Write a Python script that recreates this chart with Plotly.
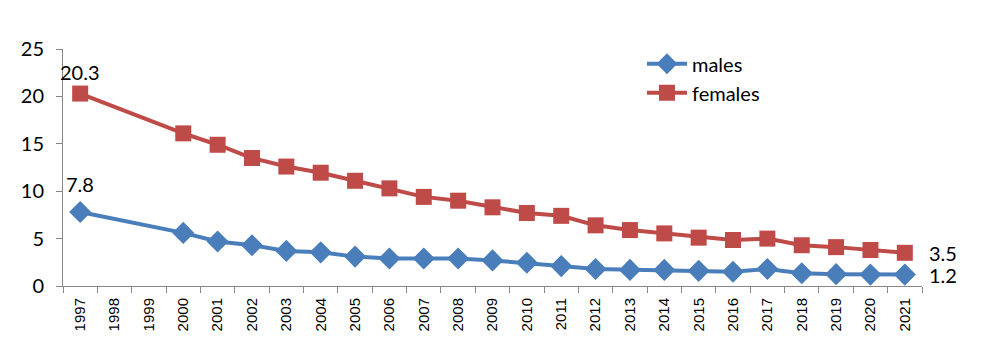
import plotly.graph_objects as go

years = [str(y) for y in range(1997, 2022)]
males = [7.8, None, None, 5.6, 4.7, 4.3, 3.7, 3.55, 3.1, 2.9, 2.9, 2.9, 2.7,
         2.45, 2.1, 1.8, 1.7, 1.7, 1.6, 1.5, 1.8, 1.35, 1.25, 1.2, 1.2]
females = [20.3, None, None, 16.1, 14.9, 13.5, 12.6, 11.95, 11.1, 10.3, 9.4, 9.0, 8.3,
           7.7, 7.4, 6.4, 5.9, 5.55, 5.1, 4.85, 5.0, 4.3, 4.1, 3.8, 3.5]

FONT = "Lato, 'Open Sans', sans-serif"
FS = 20

fig = go.Figure()
fig.add_trace(go.Scatter(
    x=years, y=males, name="males", mode="lines+markers",
    connectgaps=True, cliponaxis=False, legendgroup="m",
    line=dict(color="#4A7EBB", width=4),
    marker=dict(symbol="diamond", size=17, color="#4A7EBB"),
))
fig.add_trace(go.Scatter(
    x=years, y=females, name="females", mode="lines+markers",
    connectgaps=True, cliponaxis=False, legendgroup="f",
    line=dict(color="#BE4B48", width=4),
    marker=dict(symbol="square", size=16, color="#BE4B48"),
))

# data labels at first and last points (category index positions)
first_i, last_i = 0, len(years) - 1
for vals, ys in ((males, 14), (females, 8)):
    fig.add_annotation(x=first_i, y=vals[first_i], xref="x", yref="y",
                       text=f"{vals[first_i]:.1f}", showarrow=False,
                       yanchor="bottom", yshift=ys, font=dict(size=FS, family=FONT, color="black"))
    fig.add_annotation(x=last_i, y=vals[last_i], xref="x", yref="y",
                       text=f"{vals[last_i]:.1f}", showarrow=False,
                       xanchor="left", xshift=22, font=dict(size=FS, family=FONT, color="black"))

fig.update_layout(
    width=1007, height=349,
    margin=dict(l=63, r=85, t=49, b=63),
    paper_bgcolor="white", plot_bgcolor="white",
    font=dict(family=FONT, size=FS, color="black"),
    showlegend=True,
    legend=dict(x=0.674, y=1.02, xanchor="left", yanchor="top",
                bgcolor="rgba(0,0,0,0)", font=dict(size=FS),
                itemwidth=40, tracegroupgap=0),
)
fig.update_xaxes(
    type="category", categoryorder="array", categoryarray=years,
    range=[-0.5, 24.5],
    showline=True, linecolor="#868686", linewidth=1,
    ticks="outside", tickson="boundaries", ticklen=6, tickcolor="#868686",
    tickangle=-90, tickfont=dict(size=15, family="Liberation Sans, Arial, sans-serif"),
    ticklabelstandoff=5,
    showgrid=False, zeroline=False,
)
fig.update_yaxes(
    range=[0, 25], dtick=5, tick0=0,
    showline=True, linecolor="#868686", linewidth=1,
    ticks="outside", ticklen=6, tickcolor="#868686",
    tickfont=dict(size=FS), ticklabelstandoff=8,
    showgrid=False, zeroline=False,
)

fig.write_html("out.html")
